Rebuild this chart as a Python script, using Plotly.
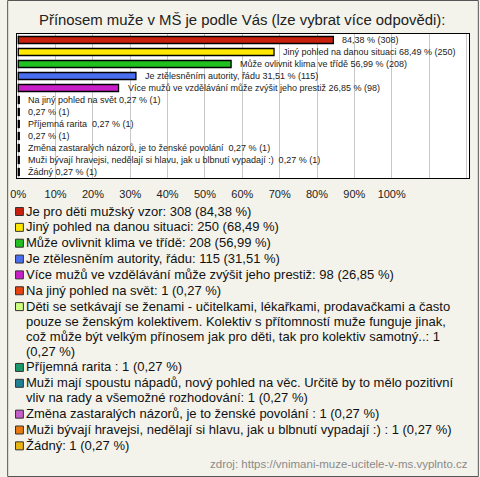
import plotly.graph_objects as go

# ---------------- data ----------------
percentages = [84.38, 68.49, 56.99, 31.51, 26.85, 0.27, 0.27, 0.27, 0.27, 0.27, 0.27, 0.27]
counts = [308, 250, 208, 115, 98, 1, 1, 1, 1, 1, 1, 1]
bar_prefix = [
    "",
    "Jiný pohled na danou situaci",
    "Může ovlivnit klima ve třídě",
    "Je ztělesněním autority, řádu",
    "Více mužů ve vzdělávání může zvýšit jeho prestiž",
    "Na jiný pohled na svět",
    "",
    "Příjemná rarita ",
    "",
    "Změna zastaralých názorů, je to ženské povolání ",
    "Muži bývají hravejsi, nedělají si hlavu, jak u blbnutí vypadají :) ",
    "Žádný",
]
legend_text = [
    "Je pro děti mužský vzor: 308 (84,38 %)",
    "Jiný pohled na danou situaci: 250 (68,49 %)",
    "Může ovlivnit klima ve třídě: 208 (56,99 %)",
    "Je ztělesněním autority, řádu: 115 (31,51 %)",
    "Více mužů ve vzdělávání může zvýšit jeho prestiž: 98 (26,85 %)",
    "Na jiný pohled na svět: 1 (0,27 %)",
    "Děti se setkávají se ženami - učitelkami, lékařkami, prodavačkami a často\n"
    "pouze se ženským kolektivem. Kolektiv s přítomností muže funguje jinak,\n"
    "což může být velkým přínosem jak pro děti, tak pro kolektiv samotný..: 1\n"
    "(0,27 %)",
    "Příjemná rarita : 1 (0,27 %)",
    "Muži mají spoustu nápadů, nový pohled na věc. Určitě by to mělo pozitivní\n"
    "vliv na rady a všemožné rozhodování: 1 (0,27 %)",
    "Změna zastaralých názorů, je to ženské povolání : 1 (0,27 %)",
    "Muži bývají hravejsi, nedělají si hlavu, jak u blbnutí vypadají :) : 1 (0,27 %)",
    "Žádný: 1 (0,27 %)",
]
colors = ["#c8200c", "#ffe800", "#20c020", "#4a6ef0", "#c81ec8", "#e8420f",
          "#ccff80", "#1a9a6a", "#1f7f95", "#c45ec8", "#ea7a10", "#eab512"]
tick_vals = [0, 10, 20, 30, 40, 50, 60, 70, 80, 90, 100, 110, 120]
tick_text = ["0%", "10%", "20%", "30%", "40%", "50%", "60%", "70%", "80%", "90%", "100%", "", ""]
title_text = "Přínosem muže v MŠ je podle Vás (lze vybrat více odpovědi):"
source_text = "zdroj: https://vnimani-muze-ucitele-v-ms.vyplnto.cz"

# ---------------- layout geometry ----------------
W, H = 480, 477
ML, MR, MT, MB = 10, 10, 34, 299
PW = W - ML - MR
PH = H - MT - MB
FONT = "Liberation Sans, Arial, sans-serif"


def px2x(px):
    return (px - ML) / PW


def px2y(py):
    return (H - MB - py) / PH


def fmt(p):
    return f"{p:.2f}".replace(".", ",")


n = len(percentages)
rows = list(range(n))

fig = go.Figure()
fig.add_trace(go.Bar(
    x=percentages, y=rows, orientation="h",
    marker=dict(color=colors, line=dict(color="#000000", width=1.3)),
    width=0.58, hoverinfo="skip", showlegend=False,
))

annotations = []
for i in rows:
    lab = (bar_prefix[i] + " " if bar_prefix[i] else "") + f"{fmt(percentages[i])} % ({counts[i]})"
    annotations.append(dict(
        x=percentages[i], y=i, xref="x", yref="y", text=lab, showarrow=False,
        xanchor="left", yanchor="middle", xshift=8, borderpad=0,
        font=dict(family=FONT, size=9, color="#222222"),
    ))

annotations.append(dict(
    x=px2x(239), y=px2y(20), xref="paper", yref="paper", text=title_text,
    showarrow=False, xanchor="center", yanchor="middle",
    font=dict(family=FONT, size=14.9, color="#222222"),
))
annotations.append(dict(
    x=px2x(471), y=px2y(464), xref="paper", yref="paper", text=source_text,
    showarrow=False, xanchor="right", yanchor="middle",
    font=dict(family=FONT, size=11.5, color="#8a8a8a"),
))

shapes = []
# outer frame
shapes.append(dict(type="rect", xref="paper", yref="paper",
                   x0=px2x(0.5), x1=px2x(W - 0.5), y0=px2y(H - 0.5), y1=px2y(0.5),
                   line=dict(color="#555555", width=1), fillcolor="rgba(0,0,0,0)", layer="below"))

# legend
ENTRY_GAP, WRAP_GAP = 15.85, 15.0
y = 211.0
for i, txt in enumerate(legend_text):
    lines = txt.split("\n")
    shapes.append(dict(type="rect", xref="paper", yref="paper",
                       x0=px2x(8.5), x1=px2x(16.5), y0=px2y(y + 4.5), y1=px2y(y - 3.5),
                       line=dict(color="#333333", width=1), fillcolor=colors[i]))
    for j, ln in enumerate(lines):
        annotations.append(dict(
            x=px2x(18), y=px2y(y), xref="paper", yref="paper", text=ln,
            showarrow=False, xanchor="left", yanchor="middle", borderpad=0,
            font=dict(family=FONT, size=13, color="#111111"),
        ))
        if j < len(lines) - 1:
            y += WRAP_GAP
    y += ENTRY_GAP

fig.update_layout(
    width=W, height=H,
    margin=dict(l=ML, r=MR, t=MT, b=MB, pad=0),
    paper_bgcolor="#f4f3eb", plot_bgcolor="#ffffff",
    bargap=0.45,
    xaxis=dict(range=[-0.34, 120.7], tickvals=tick_vals, ticktext=tick_text,
               showgrid=True, gridcolor="#c8c8c8", gridwidth=1, zeroline=False,
               showline=True, linecolor="#000000", linewidth=1, mirror=True,
               ticks="", ticklabelstandoff=6,
               tickfont=dict(family=FONT, size=11, color="#222222"), fixedrange=True),
    yaxis=dict(range=[n - 0.5, -0.5], showticklabels=False, showgrid=False, zeroline=False,
               showline=True, linecolor="#000000", linewidth=1, mirror=True,
               ticks="", fixedrange=True),
    annotations=annotations, shapes=shapes,
    showlegend=False,
)

fig.write_html("out.html", config={"displayModeBar": False},
               post_script="document.body.style.margin='0';document.body.style.padding='0';")
